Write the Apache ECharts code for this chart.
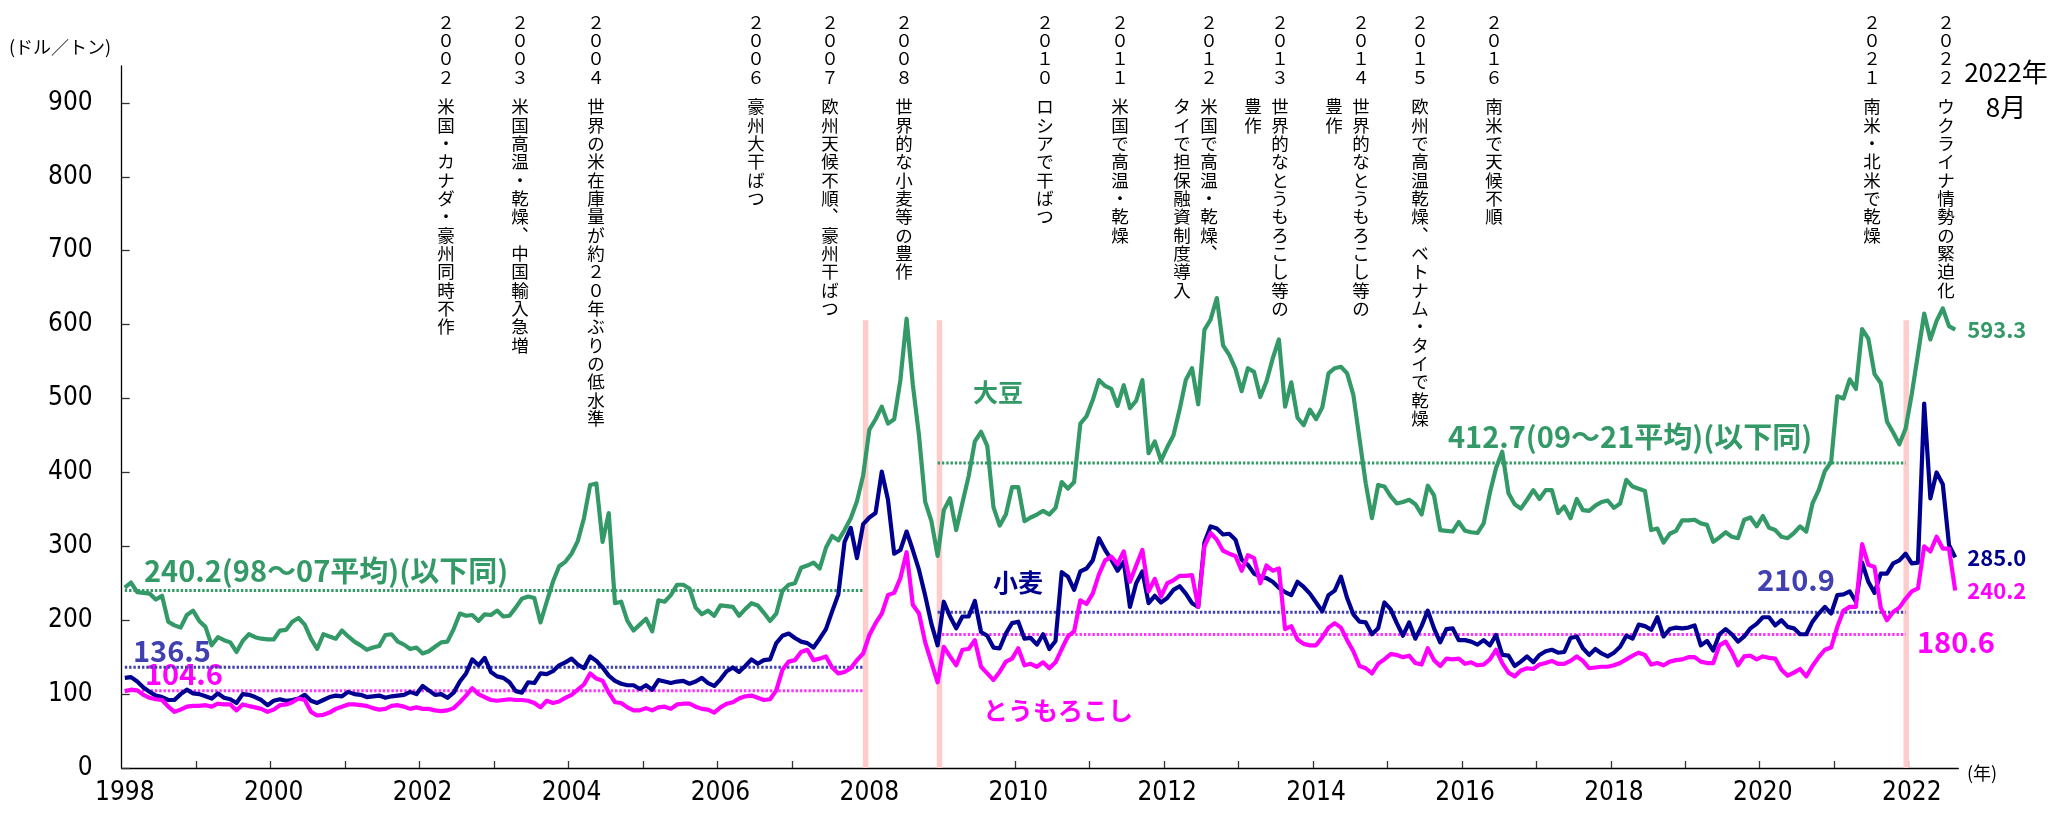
<!DOCTYPE html>
<html>
<head>
<meta charset="utf-8">
<script src="https://cdn.jsdelivr.net/npm/echarts@6/dist/echarts.min.js"></script>
<style>
  html, body { margin: 0; padding: 0; background: #fff; }
  #chart { width: 2049px; height: 821px; }
</style>
</head>
<body>
<div id="chart"></div>
<script>
// Monthly international prices (US$/t), January 1998 to August 2022.
const startYear = 1998;

const soybean = [
  244, 251, 238, 237, 236, 228, 233, 198, 193, 190,
  207, 213, 199, 191, 166, 177, 173, 170, 157, 172,
  181, 177, 175, 174, 174, 186, 187, 198, 203, 194,
  175, 161, 181, 178, 175, 186, 178, 171, 166, 160,
  163, 165, 180, 181, 171, 167, 161, 163, 155, 158,
  164, 170, 171, 188, 209, 206, 207, 199, 208, 207,
  213, 205, 206, 217, 229, 232, 230, 197, 225, 252,
  273, 279, 290, 307, 338, 383, 385, 306, 345, 223,
  225, 199, 186, 194, 202, 185, 227, 225, 234, 248,
  248, 243, 217, 208, 213, 206, 220, 219, 218, 206,
  215, 223, 220, 210, 199, 209, 240, 248, 250, 271,
  274, 278, 270, 298, 314, 308, 322, 338, 361, 396,
  458, 472, 489, 466, 472, 525, 608, 519, 450, 360,
  334, 287, 349, 365, 322, 359, 395, 442, 455, 436,
  353, 328, 343, 380, 380, 334, 339, 343, 348, 343,
  352, 387, 378, 387, 466, 476, 498, 525, 517, 513,
  490, 518, 487, 497, 525, 426, 442, 416, 434, 450,
  485, 525, 541, 492, 593, 607, 636, 572, 559, 540,
  510, 541, 536, 502, 523, 554, 580, 489, 522, 474,
  464, 485, 472, 488, 534, 541, 543, 534, 505, 445,
  385, 338, 383, 381, 368, 358, 360, 363, 357, 343,
  382, 369, 322, 321, 320, 333, 321, 319, 318, 331,
  372, 406, 428, 372, 357, 351, 363, 376, 364, 376,
  376, 345, 354, 338, 364, 349, 348, 355, 360, 362,
  352, 358, 390, 381, 378, 375, 322, 324, 305, 317,
  321, 335, 335, 336, 331, 329, 306, 312, 319, 313,
  311, 336, 339, 327, 341, 325, 322, 313, 311, 318,
  327, 320, 358, 376, 402, 414, 503, 500, 526, 513,
  594, 581, 533, 521, 469, 454, 438, 459, 506, 560,
  615, 580, 605, 622, 598, 593.3
];

const wheat = [
  122, 123, 117, 109, 103, 98, 96, 92, 92, 100,
  106, 101, 100, 97, 94, 101, 95, 93, 88, 100,
  99, 96, 92, 85, 91, 93, 91, 92, 94, 99,
  91, 88, 92, 96, 98, 97, 103, 100, 99, 96,
  97, 98, 95, 97, 98, 99, 103, 100, 111, 105,
  99, 100, 95, 102, 117, 128, 147, 139, 149, 130,
  124, 122, 116, 104, 102, 116, 115, 128, 127, 131,
  139, 143, 148, 140, 135, 151, 145, 136, 125, 118,
  114, 112, 112, 107, 112, 106, 119, 117, 115, 117,
  118, 114, 117, 122, 115, 111, 120, 131, 136, 130,
  138, 147, 141, 146, 147, 169, 179, 182, 176, 171,
  169, 163, 175, 188, 212, 235, 306, 325, 284, 330,
  339, 345, 401, 363, 290, 295, 320, 295, 268, 233,
  195, 166, 225, 205, 189, 205, 205, 226, 184, 179,
  163, 162, 182, 196, 198, 175, 176, 167, 181, 161,
  172, 265, 259, 241, 266, 270, 281, 311, 295, 282,
  267, 279, 218, 250, 266, 223, 233, 224, 230, 241,
  246, 236, 223, 218, 305, 327, 324, 316, 317, 309,
  282, 275, 263, 259, 257, 252, 244, 238, 234, 252,
  245, 236, 224, 212, 234, 240, 259, 230, 208, 198,
  197, 181, 189, 224, 215, 196, 179, 197, 175, 192,
  213, 189, 170, 188, 189, 173, 173, 171, 167, 173,
  166, 180, 153, 152, 138, 144, 151, 143, 153, 158,
  160, 156, 157, 176, 178, 162, 153, 161, 155, 151,
  156, 164, 179, 175, 194, 192, 187, 204, 178, 188,
  190, 189, 190, 193, 166, 172, 159, 181, 188, 181,
  171, 178, 189, 195, 204, 204, 193, 200, 191, 189,
  181, 181, 198, 209, 218, 209, 234, 235, 239, 225,
  278, 252, 237, 263, 263, 277, 281, 290, 277, 278,
  493, 365, 400, 384, 302, 285.0
];

const corn = [
  104, 106, 105, 99, 95, 93, 92, 83, 76, 79,
  83, 84, 84, 85, 83, 87, 86, 86, 78, 86,
  84, 82, 80, 76, 79, 85, 86, 89, 94, 92,
  76, 71, 72, 75, 80, 83, 86, 86, 85, 84,
  81, 79, 80, 84, 85, 83, 80, 82, 80, 80,
  78, 77, 78, 81, 89, 98, 108, 100, 96, 92,
  91, 92, 93, 92, 92, 91, 88, 82, 91, 88,
  90, 95, 99, 106, 113, 128, 121, 118, 102, 89,
  88, 82, 78, 78, 81, 78, 82, 83, 80, 86,
  87, 87, 83, 80, 79, 75, 82, 87, 89, 94,
  97, 98, 95, 92, 93, 105, 133, 144, 146, 157,
  160, 146, 148, 151, 136, 128, 130, 135, 146, 155,
  180, 196, 209, 234, 237, 257, 292, 221, 209, 170,
  143, 116, 164, 151, 139, 160, 161, 173, 137, 128,
  119, 130, 144, 148, 162, 139, 141, 137, 143, 135,
  143, 161, 178, 185, 227, 222, 236, 262, 281, 286,
  276, 293, 252, 274, 295, 239, 256, 232, 250, 254,
  260, 260, 261, 218, 300, 318, 309, 294, 290, 287,
  267, 288, 284, 250, 274, 267, 270, 188, 192, 174,
  168, 166, 166, 177, 190, 196, 190, 173, 158, 138,
  135, 128, 141, 147, 154, 153, 150, 152, 142, 140,
  162, 146, 138, 148, 147, 148, 141, 143, 139, 140,
  147, 160, 142, 129, 124, 132, 135, 134, 140, 142,
  145, 141, 141, 145, 151, 145, 135, 136, 137, 137,
  139, 142, 147, 152, 156, 153, 140, 142, 139, 144,
  146, 147, 150, 150, 144, 142, 142, 166, 171, 157,
  139, 151, 152, 147, 151, 149, 148, 133, 125, 129,
  134, 124, 138, 150, 160, 163, 191, 213, 218, 218,
  303, 275, 272, 217, 200, 211, 217, 229, 239, 243,
  300, 293, 313, 297, 297, 240.2
];

// Period averages: 1998-2007 and 2009-2021
const avgSoybean = [240.2, 412.7];
const avgWheat = [136.5, 210.9];
const avgCorn = [104.6, 180.6];
const avgPeriodMonths = [[0.5, 119.5], [131.5, 287.5]];

// Price-shock markers (month positions on the time axis) and their height
const eventBarMonths = [119.9, 131.8, 287.6];
const eventBarTop = 606;

const yTickValues = [0, 100, 200, 300, 400, 500, 600, 700, 800, 900];

// Event notes written down the top of the chart
const eventYears = ['2002', '2003', '2004', '2006', '2007', '2008', '2010', '2011', '2012', '2013', '2014', '2015', '2016', '2021', '2022'];
const eventNotes = [
  ['米国・カナダ・豪州同時不作'],
  ['米国高温・乾燥、中国輸入急増'],
  ['世界の米在庫量が約２０年ぶりの低水準'],
  ['豪州大干ばつ'],
  ['欧州天候不順、豪州干ばつ'],
  ['世界的な小麦等の豊作'],
  ['ロシアで干ばつ'],
  ['米国で高温・乾燥'],
  ['米国で高温・乾燥、', 'タイで担保融資制度導入'],
  ['世界的なとうもろこし等の', '豊作'],
  ['世界的なとうもろこし等の', '豊作'],
  ['欧州で高温乾燥、ベトナム・タイで乾燥'],
  ['南米で天候不順'],
  ['南米・北米で乾燥'],
  ['ウクライナ情勢の緊迫化']
];

// ---------------- drawing ----------------
const GREEN = '#339966', NAVY = '#000090', MAGENTA = '#ff00ff', AVG_BLUE = '#4040b0';
const JP = "'Noto Sans CJK JP', sans-serif";
const NUM = "'Liberation Sans Narrow', 'Arial Narrow', 'DejaVu Sans Condensed', sans-serif";

const nMonths = soybean.length;
const toPoints = arr => arr.map((v, i) => [i + 0.5, v]);

const yearTickPositions = [];
for (let m = 12; m < nMonths; m += 12) yearTickPositions.push(m);
const yearLabelPositions = [];
for (let m = 0; m < nMonths; m += 24) yearLabelPositions.push(m + 0.5);

const chart = echarts.init(document.getElementById('chart'), null, { renderer: 'canvas' });

function avgSeries(values, color) {
  return values.map((v, i) => ({
    type: 'line',
    silent: true,
    z: 2,
    symbol: 'none',
    data: [[avgPeriodMonths[i][0], v], [avgPeriodMonths[i][1], v]],
    lineStyle: { color: color, width: 3, type: [2.4, 1.9], cap: 'butt' }
  }));
}

function priceSeries(name, arr, color, z) {
  return {
    name: name,
    type: 'line',
    z: z,
    showSymbol: false,
    symbol: 'none',
    data: toPoints(arr),
    lineStyle: { color: color, width: 4.2, join: 'round' },
    endLabel: {
      show: true,
      distance: 12,
      formatter: p => p.value[1].toFixed(1),
      color: color,
      fontFamily: JP,
      fontWeight: 'bold',
      fontSize: 22
    }
  };
}

// Vertical (top-to-bottom) note columns
const toFullWidth = s => s.replace(/[0-9]/g, d => String.fromCharCode(d.charCodeAt(0) + 0xFEE0));
const vert = s => s.replace(/、/g, '︑').split('').join('\n');

const noteColumnX = [446, 520, 596, 756, 830, 904, 1045, 1120, 1209, 1280, 1361, 1420, 1494, 1872, 1946];
const notePitch = 18.33;
const graphics = [];
eventYears.forEach((yr, i) => {
  const x = noteColumnX[i];
  graphics.push({
    type: 'text', x: x, y: 22 - notePitch / 2,
    style: { text: vert(toFullWidth(yr)), fill: '#000', font: '17.5px ' + JP, lineHeight: notePitch, align: 'center', verticalAlign: 'top' }
  });
  eventNotes[i].forEach((col, j) => {
    graphics.push({
      type: 'text', x: x - j * 27, y: 106.7 - notePitch / 2,
      style: { text: vert(col), fill: '#000', font: '17.5px ' + JP, lineHeight: notePitch, align: 'center', verticalAlign: 'top' }
    });
  });
});

function label(x, y, text, color, size, weight, align) {
  graphics.push({
    type: 'text', x: x, y: y,
    style: { text: text, fill: color, fontFamily: JP, fontSize: size, fontWeight: weight || 'bold', align: align || 'left', verticalAlign: 'middle' }
  });
}

label(9, 47, '(ドル／トン)', '#000', 18, 'normal');
label(1967, 773, '(年)', '#000', 18, 'normal');
graphics.push({
  type: 'text', x: 2006, y: 54.5,
  style: { text: '2022年\n8月', fill: '#000', fontFamily: JP, fontSize: 26, lineHeight: 35, align: 'center', verticalAlign: 'top' }
});

label(144, 571, avgSoybean[0].toFixed(1) + '(98～07平均)(以下同)', GREEN, 29);
label(133, 651, avgWheat[0].toFixed(1), AVG_BLUE, 29);
label(145, 674, avgCorn[0].toFixed(1), MAGENTA, 29);
label(1448, 437, avgSoybean[1].toFixed(1) + '(09～21平均)(以下同)', GREEN, 29);
label(1757, 580, avgWheat[1].toFixed(1), AVG_BLUE, 29);
label(1917, 642, avgCorn[1].toFixed(1), MAGENTA, 29);

label(973, 392, '大豆', GREEN, 25);
label(993, 582, '小麦', NAVY, 25);
label(983, 710, 'とうもろこし', MAGENTA, 25);

const option = {
  backgroundColor: '#fff',
  animation: false,
  grid: { left: 121.7, right: 90.7, top: 66, bottom: 53, containLabel: false },
  xAxis: {
    type: 'value',
    min: 0,
    max: nMonths,
    axisLine: { show: true, onZero: false, lineStyle: { color: '#000', width: 1.3 } },
    axisTick: { show: true, inside: true, length: 7, customValues: yearTickPositions, lineStyle: { color: '#333', width: 1.3 } },
    axisLabel: {
      customValues: yearLabelPositions,
      formatter: v => String(startYear + Math.round((v - 0.5) / 12)),
      fontFamily: NUM, fontSize: 26, color: '#000', margin: 12
    },
    splitLine: { show: false }
  },
  yAxis: {
    type: 'value',
    min: 0,
    max: 950,
    axisLine: { show: true, lineStyle: { color: '#000', width: 1.3 } },
    axisTick: { show: true, inside: true, length: 8, customValues: yTickValues, lineStyle: { color: '#333', width: 1.3 } },
    axisLabel: { customValues: yTickValues, fontFamily: NUM, fontSize: 26, color: '#000', margin: 29 },
    splitLine: { show: false }
  },
  series: [
    {
      type: 'custom',
      z: 1,
      silent: true,
      data: eventBarMonths.map(m => [m, eventBarTop]),
      renderItem: (params, api) => {
        const p0 = api.coord([api.value(0), 0]);
        const p1 = api.coord([api.value(0), api.value(1)]);
        const w = 5.5;
        return { type: 'rect', shape: { x: p0[0] - w / 2, y: p1[1], width: w, height: p0[1] - p1[1] }, style: { fill: '#ffcccc' } };
      }
    },
    ...avgSeries(avgSoybean, GREEN),
    ...avgSeries(avgWheat, AVG_BLUE),
    ...avgSeries(avgCorn, '#ff33ff'),
    priceSeries('大豆', soybean, GREEN, 3),
    priceSeries('小麦', wheat, NAVY, 4),
    priceSeries('とうもろこし', corn, MAGENTA, 5)
  ],
  graphic: graphics
};

chart.setOption(option);
</script>
</body>
</html>
